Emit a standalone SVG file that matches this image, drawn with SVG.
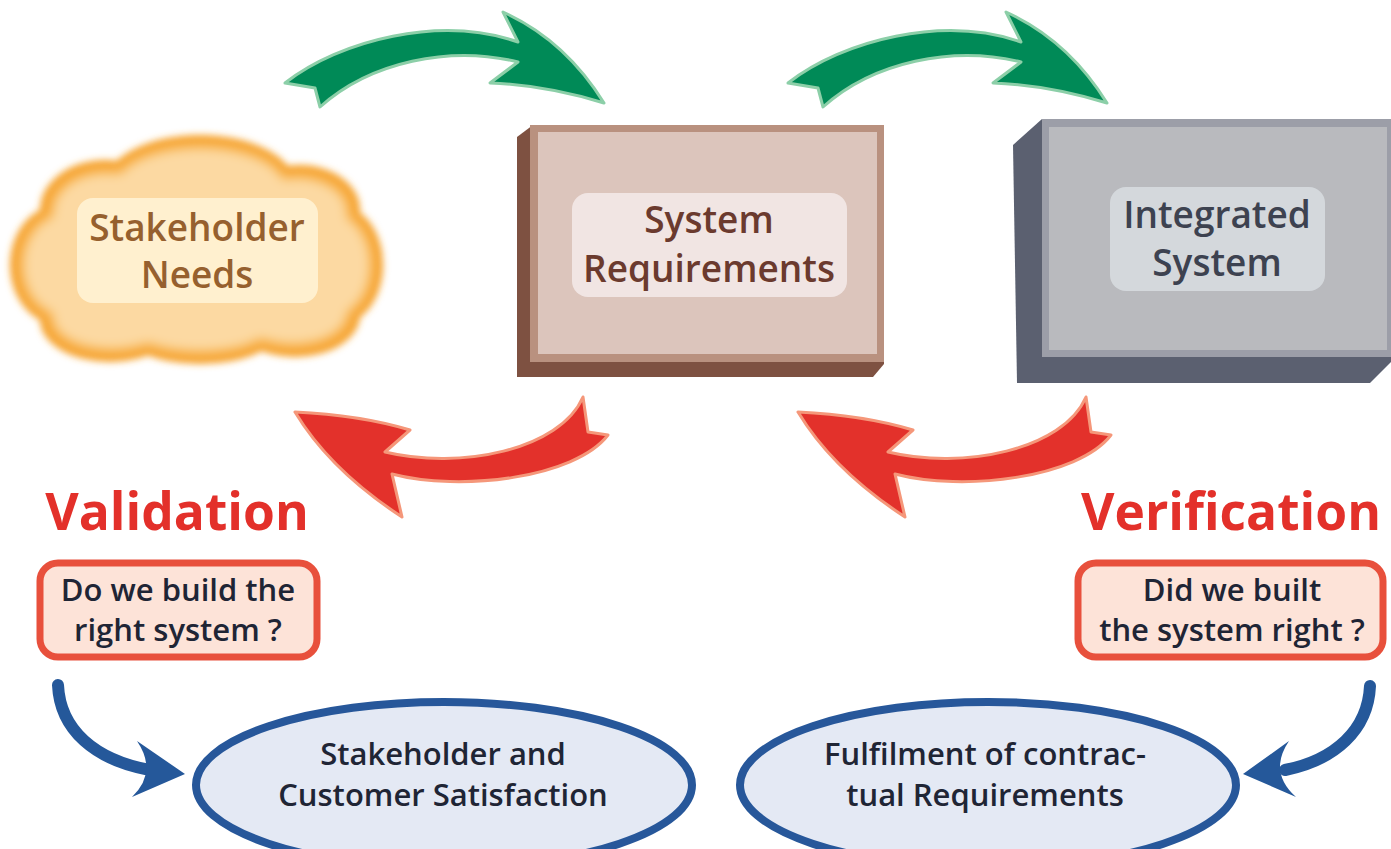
<svg xmlns="http://www.w3.org/2000/svg" width="1391" height="849" viewBox="0 0 1391 849">
<defs>
<style>
.t{font-family:"Open Sans","Noto Sans","DejaVu Sans",sans-serif;text-anchor:middle}
.big{font-size:51.5px;font-weight:700;fill:#e3302a}
.q{font-size:31px;font-weight:600;fill:#1f2535}
.el{font-size:31px;font-weight:600;fill:#1f2535}
.lbl{font-size:37px;font-weight:600}
.green{fill:#008a57;stroke:#8ccfa8;stroke-width:3;stroke-linejoin:round}
.red{fill:#e3312b;stroke:#f5977a;stroke-width:3;stroke-linejoin:round}
.blue{fill:none;stroke:#25589a;stroke-width:12;stroke-linecap:round}
.bluehead{fill:#25589a}
</style>
<filter id="blur4" x="-20%" y="-20%" width="140%" height="140%"><feGaussianBlur stdDeviation="3.5"/></filter>
<filter id="blur6" x="-20%" y="-20%" width="140%" height="140%"><feGaussianBlur stdDeviation="6"/></filter>
<path id="garrow" d="M285 83 C340 40 440 15 518 42 L503 12 Q565 40 604 103 Q545 85 490 83 L518 62 C450 45 370 62 320 107 L315 88 Z"/>
<path id="rarrow" d="M295 412 Q360 415 410 430 L385 452 C460 470 560 450 583 397 L588 432 L608 435 C575 478 460 492 392 474 L402 517 Q330 470 295 412 Z"/>
</defs>
<rect width="1391" height="849" fill="#ffffff"/>

<g id="connectors">
<use href="#garrow" class="green"/>
<use href="#garrow" class="green" transform="translate(503,0)"/>
<use href="#rarrow" class="red"/>
<use href="#rarrow" class="red" transform="translate(503,0)"/>
<path class="blue" d="M58 685 C60 730 95 760 150 770"/>
<path class="bluehead" d="M185 774 L137 741 Q158 772 132 797 Z"/>
<path class="blue" d="M1370 686 C1368 730 1335 760 1285 770"/>
<path class="bluehead" d="M1243 774 L1289 741 Q1268 772 1296 797 Z"/>
</g>

<g id="stakeholder-needs">
<g fill="#f6a430" filter="url(#blur4)">
<ellipse cx="195" cy="258" rx="170" ry="95"/>
<ellipse cx="200" cy="185" rx="95" ry="50"/>
<ellipse cx="105" cy="210" rx="65" ry="50"/>
<ellipse cx="300" cy="210" rx="60" ry="45"/>
<ellipse cx="60" cy="265" rx="50" ry="60"/>
<ellipse cx="338" cy="265" rx="45" ry="60"/>
<ellipse cx="110" cy="320" rx="70" ry="42"/>
<ellipse cx="200" cy="328" rx="80" ry="36"/>
<ellipse cx="295" cy="315" rx="65" ry="42"/>
</g>
<g fill="#fcd9a2" filter="url(#blur6)">
<ellipse cx="195" cy="258" rx="160" ry="85"/>
<ellipse cx="200" cy="187" rx="85" ry="40"/>
<ellipse cx="107" cy="212" rx="55" ry="40"/>
<ellipse cx="298" cy="212" rx="50" ry="35"/>
<ellipse cx="62" cy="265" rx="40" ry="50"/>
<ellipse cx="336" cy="265" rx="35" ry="50"/>
<ellipse cx="112" cy="318" rx="60" ry="32"/>
<ellipse cx="200" cy="326" rx="70" ry="26"/>
<ellipse cx="293" cy="313" rx="55" ry="32"/>
</g>
<rect x="77" y="198" width="241" height="105" rx="16" fill="#fff0cf"/>
<text class="t lbl" x="197" y="241" fill="#96602e">Stakeholder</text>
<text class="t lbl" x="197" y="288" fill="#96602e">Needs</text>
</g>

<g id="system-requirements">
<path d="M517 137 L533 125 L884 125 L884 364 L873 377 L517 377 Z" fill="#7e5141"/>
<rect x="530" y="125" width="354" height="237" fill="#b9917f"/>
<rect x="538" y="132" width="339" height="222" fill="#dcc5bc"/>
<rect x="572" y="193" width="275" height="104" rx="16" fill="#f1e5e3"/>
<text class="t lbl" x="709" y="233" fill="#6b3a2e">System</text>
<text class="t lbl" x="709" y="282" fill="#6b3a2e">Requirements</text>
</g>

<g id="integrated-system">
<path d="M1013 145 L1042 119 L1391 119 L1391 362 L1370 383 L1017 383 Z" fill="#5b6070"/>
<rect x="1042" y="119" width="349" height="238" fill="#9c9ea8"/>
<rect x="1049" y="127" width="338" height="223" fill="#b9babe"/>
<rect x="1110" y="187" width="215" height="104" rx="16" fill="#d4d8dc"/>
<text class="t lbl" x="1217" y="228" fill="#3d4250">Integrated</text>
<text class="t lbl" x="1217" y="276" fill="#3d4250">System</text>
</g>

<g id="validation">
<text class="t big" x="177" y="530">Validation</text>
<rect x="40" y="563" width="277" height="94" rx="18" fill="#fde3d8" stroke="#e8503c" stroke-width="7"/>
<text class="t q" x="178" y="601">Do we build the</text>
<text class="t q" x="178" y="641">right system ?</text>
</g>

<g id="verification">
<text class="t big" x="1231" y="530">Verification</text>
<rect x="1078" y="563" width="305" height="94" rx="18" fill="#fde3d8" stroke="#e8503c" stroke-width="7"/>
<text class="t q" x="1232" y="601">Did we built</text>
<text class="t q" x="1232" y="641">the system right ?</text>
</g>

<g id="satisfaction">
<ellipse cx="444" cy="785" rx="248" ry="83" fill="#e4e9f4" stroke="#27579a" stroke-width="8"/>
<text class="t el" x="443" y="765">Stakeholder and</text>
<text class="t el" x="443" y="806">Customer Satisfaction</text>
</g>

<g id="fulfilment">
<ellipse cx="988" cy="785" rx="248" ry="83" fill="#e4e9f4" stroke="#27579a" stroke-width="8"/>
<text class="t el" x="985" y="765">Fulfilment of contrac-</text>
<text class="t el" x="985" y="806">tual Requirements</text>
</g>
</svg>
